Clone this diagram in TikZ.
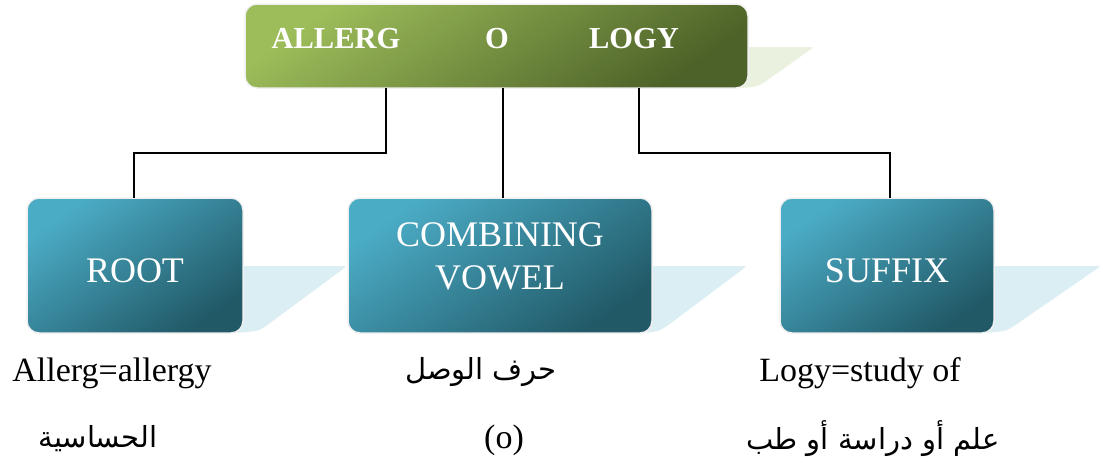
\documentclass[tikz,border=0pt]{standalone}
\usepackage{fontspec}
\setmainfont{Liberation Serif}
\newfontfamily\arabicfont[Script=Arabic]{DejaVu Sans}
\TeXXeTstate=1
\definecolor{gtop}{HTML}{9DBD5A}
\definecolor{gbot}{HTML}{4D6228}
\definecolor{btop}{HTML}{4BACC6}
\definecolor{bbot}{HTML}{215967}
\definecolor{gshad}{HTML}{EAF1DE}
\definecolor{bshad}{HTML}{DBEEF3}
\tikzset{
  gbox/.style={rounded corners=12pt, top color=gtop, bottom color=gbot, shading angle=35, draw=black!6, line width=1.5pt},
  bbox/.style={rounded corners=12pt, top color=btop, bottom color=bbot, shading angle=35, draw=black!6, line width=1.5pt},
  conn/.style={draw=black, line width=2.4pt},
  toptxt/.style={text=white, font=\fontsize{30.5}{34}\selectfont\bfseries, inner sep=0pt},
  boxtxt/.style={text=white, font=\fontsize{36}{40}\selectfont, inner sep=0pt},
  lattxt/.style={font=\fontsize{34}{38}\selectfont, inner sep=0pt},
  artxt/.style={font=\fontsize{29}{34}\selectfont\arabicfont, inner sep=0pt},
}
\begin{document}
\begin{tikzpicture}[x=1pt,y=-1pt]
\useasboundingbox (0,0) rectangle (1103,464);
% shadows
\fill[gshad, rounded corners=3pt] (735,47) -- (814,47) -- (762,84) .. controls (755,87) .. (740,88) -- cycle;
\fill[bshad, rounded corners=3pt] (235,266) -- (347,266) -- (266,326) .. controls (258,331) .. (235,333) -- cycle;
\fill[bshad, rounded corners=3pt] (645,266) -- (747,266) -- (667,326) .. controls (659,331) .. (645,333) -- cycle;
\fill[bshad, rounded corners=3pt] (985,266) -- (1101,266) -- (1014,326) .. controls (1006,331) .. (985,333) -- cycle;
% boxes
\path[gbox] (245,4) rectangle (748,88);
\node[inner sep=0pt, minimum width=503pt, minimum height=84pt] (top) at (496.5,46) {};
\path[bbox] (27,198) rectangle (243,333);
\node[inner sep=0pt, minimum width=216pt, minimum height=135pt] (root) at (135,265.5) {};
\path[bbox] (348,198) rectangle (652,333);
\node[inner sep=0pt, minimum width=304pt, minimum height=135pt] (comb) at (500,265.5) {};
\path[bbox] (780,198) rectangle (994,333);
\node[inner sep=0pt, minimum width=214pt, minimum height=135pt] (suf) at (887,265.5) {};
% box texts
\node[toptxt] (t1) at (336,39) {ALLERG};
\node[toptxt] (t2) at (497,39) {O};
\node[toptxt] (t3) at (634,39) {LOGY};
\node[boxtxt] (rt) at (135,271) {ROOT};
\node[boxtxt] (ct1) at (500,235) {COMBINING};
\node[boxtxt] (ct2) at (500,278) {VOWEL};
\node[boxtxt] (st) at (887,271) {SUFFIX};
% connectors
\draw[conn] ([xshift=-110.5pt]top.south) -- ++(0,65) -| ([xshift=-1pt]root.north);
\draw[conn] ([xshift=6.5pt]top.south) -- ([xshift=6.5pt]top.south |- comb.north);
\draw[conn] ([xshift=142.5pt]top.south) -- ++(0,65) -| ([xshift=3pt]suf.north);
% bottom texts
\node[lattxt] (l1) at (112,373) {Allerg=allergy};
\node[artxt] (a1) at (481,372) {\beginR حرف الوصل\endR};
\node[lattxt] (l2) at (860,373) {Logy=study of};
\node[artxt] (a2) at (98,439) {\beginR الحساسية\endR};
\node[lattxt] (l3) at (504,440) {(o)};
\node[artxt] (a3) at (873,439) {\beginR علم أو دراسة أو طب\endR};
\end{tikzpicture}
\end{document}
